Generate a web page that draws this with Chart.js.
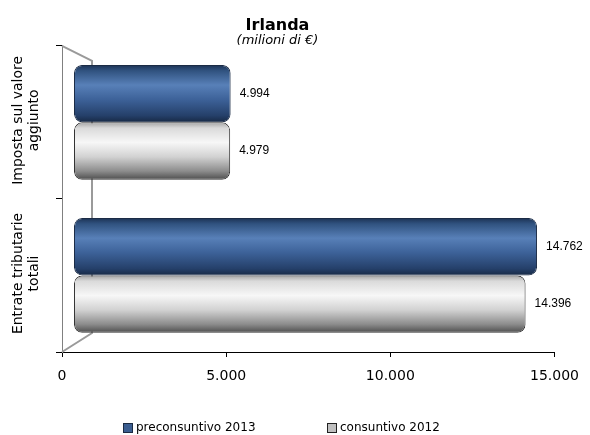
<!DOCTYPE html>
<html lang="it">
<head>
  <meta charset="utf-8">
  <title>Irlanda - entrate tributarie</title>
  <script src="https://cdn.jsdelivr.net/npm/chart.js"></script>
  <style>
    html, body { margin: 0; padding: 0; background: #fff; }
  </style>
</head>
<body>
  <canvas id="myChart" width="590" height="435"></canvas>
  <script>
    // dati
    const categories = [['Imposta sul valore', 'aggiunto'], ['Entrate tributarie', 'totali']];
    const seriesNames = ['preconsuntivo 2013', 'consuntivo 2012'];
    const preconsuntivo2013 = [4994, 14762];
    const consuntivo2012 = [4979, 14396];
    const xTicks = [0, 5000, 10000, 15000];

    const catPct = 0.75;
    const FONT = '"DejaVu Sans", sans-serif';

    const blueStops = [[0, '#1c3153'], [0.1, '#30527f'], [0.35, '#5880b8'], [0.6, '#3d6299'], [0.88, '#25406a'], [1, '#172944']];
    const greyStops = [[0, '#a4a4a4'], [0.1, '#dadada'], [0.35, '#f7f7f7'], [0.6, '#d2d2d2'], [0.85, '#8c8c8c'], [1, '#4c4c4c']];

    function fmt(n) {
      return String(n).replace(/\B(?=(\d{3})+(?!\d))/g, '.');
    }

    // gradiente "cilindro" calcolato dalla scala y
    function cylinder(stops) {
      return function (ctx) {
        const chart = ctx.chart, y = chart.scales.y;
        if (!chart.chartArea || !y || ctx.dataIndex === undefined) return stops[2][1];
        const band = (y.bottom - y.top) / categories.length;
        const thick = band * catPct / 2;
        const centre = y.getPixelForValue(ctx.dataIndex) + (ctx.datasetIndex - 0.5) * thick;
        const g = chart.ctx.createLinearGradient(0, centre - thick / 2, 0, centre + thick / 2);
        stops.forEach(s => g.addColorStop(s[0], s[1]));
        return g;
      };
    }

    // parete laterale del grafico 3D
    const wallPlugin = {
      id: 'wall',
      beforeDatasetsDraw(chart) {
        const a = chart.chartArea, c = chart.ctx;
        c.save();
        c.strokeStyle = '#9a9a9a';
        c.lineWidth = 2;
        c.beginPath();
        c.moveTo(a.left, a.top);
        c.lineTo(a.left + 30, a.top + 15);
        c.lineTo(a.left + 30, a.bottom - 19);
        c.lineTo(a.left, a.bottom);
        c.stroke();
        c.restore();
      }
    };

    const valuePlugin = {
      id: 'values',
      afterDatasetsDraw(chart) {
        const c = chart.ctx;
        c.save();
        c.font = '12px "Liberation Sans", Arial, sans-serif';
        c.fillStyle = '#000';
        c.textAlign = 'left';
        c.textBaseline = 'middle';
        chart.data.datasets.forEach((ds, d) => {
          chart.getDatasetMeta(d).data.forEach((el, i) => {
            c.fillText(fmt(ds.data[i]), el.x + 9, el.y);
          });
        });
        c.restore();
      }
    };

    const yLabelPlugin = {
      id: 'yLabels',
      afterDraw(chart) {
        const y = chart.scales.y, c = chart.ctx;
        c.save();
        c.font = '14px ' + FONT;
        c.fillStyle = '#000';
        c.textAlign = 'center';
        c.textBaseline = 'middle';
        categories.forEach((lines, i) => {
          c.save();
          c.translate(26, y.getPixelForTick(i) - 2);
          c.rotate(-Math.PI / 2);
          lines.forEach((ln, k) => c.fillText(ln, 0, (k - (lines.length - 1) / 2) * 16));
          c.restore();
        });
        c.restore();
      }
    };

    const legendPlugin = {
      id: 'legendBox',
      afterDraw(chart) {
        const c = chart.ctx;
        const items = [
          { x: 123, fill: '#3b5e91', stroke: '#1c2c44', text: seriesNames[0] },
          { x: 327, fill: '#c0c0c0', stroke: '#222', text: seriesNames[1] }
        ];
        c.save();
        c.font = '12px ' + FONT;
        c.textBaseline = 'middle';
        c.textAlign = 'left';
        items.forEach(it => {
          c.fillStyle = it.fill;
          c.fillRect(it.x, 423, 10, 10);
          c.strokeStyle = it.stroke;
          c.lineWidth = 1;
          c.strokeRect(it.x + 0.5, 423.5, 9, 9);
          c.fillStyle = '#000';
          c.fillText(it.text, it.x + 13, 428);
        });
        c.restore();
      }
    };

    Chart.defaults.color = '#000';
    Chart.defaults.font.family = FONT;

    new Chart(document.getElementById('myChart'), {
      type: 'bar',
      data: {
        labels: categories.map(l => l.join(' ')),
        datasets: [{
          label: seriesNames[0],
          data: preconsuntivo2013,
          backgroundColor: cylinder(blueStops),
          borderColor: '#1b2b45',
          borderWidth: 1,
          borderRadius: 8,
          borderSkipped: false,
          xAxisID: 'x2'
        }, {
          label: seriesNames[1],
          data: consuntivo2012,
          backgroundColor: cylinder(greyStops),
          borderColor: '#333',
          borderWidth: 1,
          borderRadius: 8,
          borderSkipped: false,
          xAxisID: 'x2'
        }]
      },
      options: {
        indexAxis: 'y',
        responsive: false,
        devicePixelRatio: 1,
        animation: false,
        layout: { padding: { left: 0, right: 35, top: 0, bottom: 0 } },
        datasets: { bar: { categoryPercentage: catPct, barPercentage: 1 } },
        plugins: {
          legend: { display: false },
          tooltip: { enabled: false },
          title: {
            display: true,
            text: 'Irlanda',
            font: { size: 16, weight: 'bold', family: FONT },
            padding: { top: 16, bottom: -5 }
          },
          subtitle: {
            display: true,
            text: '(milioni di €)',
            font: { size: 13, style: 'italic', family: FONT },
            padding: { top: 3, bottom: -3 }
          }
        },
        scales: {
          x: {
            min: 0,
            max: 15000,
            afterBuildTicks: s => { s.ticks = xTicks.map(v => ({ value: v })); },
            afterFit: s => { s.height = 83; },
            ticks: {
              callback: v => fmt(v),
              font: { size: 14 },
              padding: 11,
              maxRotation: 0
            },
            grid: { drawOnChartArea: false, tickLength: 5, color: '#000' },
            border: { color: '#000' }
          },
          // asse nascosto: riproduce lo spostamento prospettico delle barre 3D
          x2: {
            display: false,
            min: -382,
            max: 15319
          },
          y: {
            afterFit: s => { s.width = 62; },
            ticks: { display: false },
            grid: { drawOnChartArea: false, tickLength: 6, color: '#000', offset: true },
            border: { color: '#808080' }
          }
        }
      },
      plugins: [wallPlugin, valuePlugin, yLabelPlugin, legendPlugin]
    });
  </script>
</body>
</html>
